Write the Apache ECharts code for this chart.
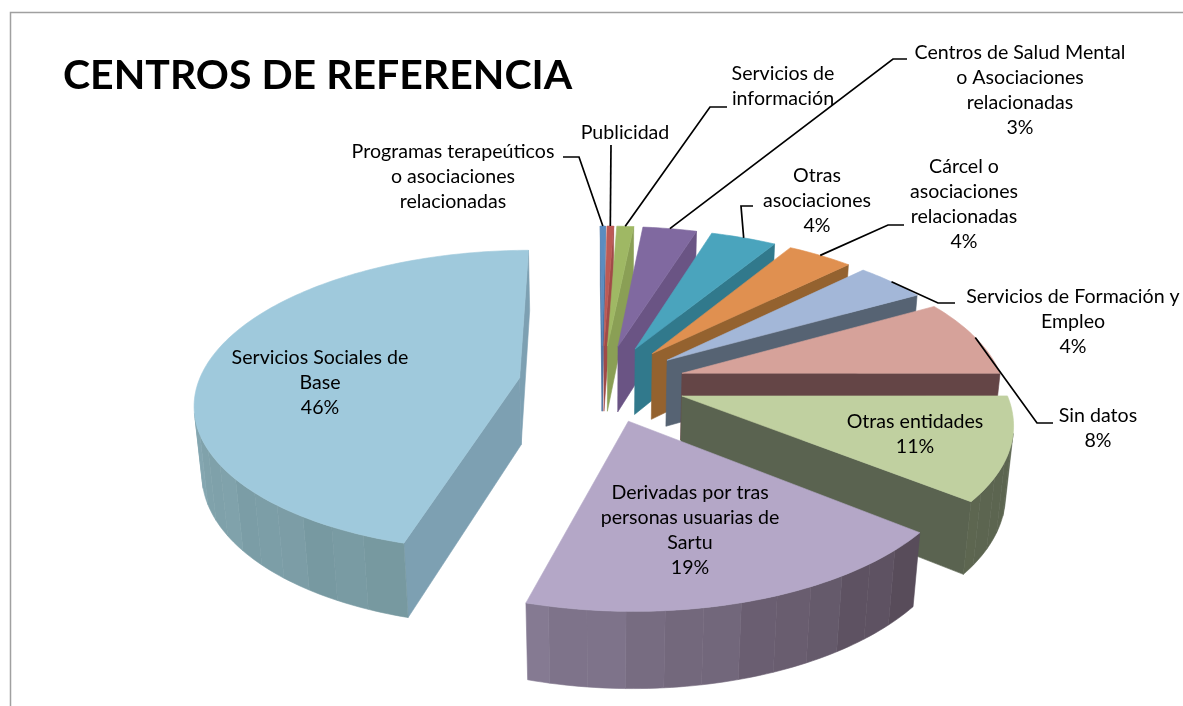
<!DOCTYPE html>
<html>
<head>
<meta charset="utf-8">
<style>
  html, body { margin: 0; padding: 0; background: #fff; }
  #chart { width: 1183px; height: 706px; }
</style>
<script src="https://cdn.jsdelivr.net/npm/echarts@6/dist/echarts.min.js"></script>
</head>
<body>
<div id="chart"></div>
<script>
// valores (porcentaje, sentido horario desde las 12)
const names = ['Programas terapeúticos', 'Publicidad', 'Servicios de información', 'Centros de Salud Mental', 'Otras asociaciones', 'Cárcel', 'Servicios de Formación y Empleo', 'Sin datos', 'Otras entidades', 'Derivadas', 'Servicios Sociales de Base']
const values = [0.3, 0.4, 1.0, 3.2, 3.9, 3.9, 4.2, 8.2, 10.8, 18.6, 45.5]
const percentLabels = ['', '', '', '3%', '4%', '4%', '4%', '8%', '11%', '19%', '46%']
const labelLines = [
  ['Programas terapeúticos', 'o asociaciones', 'relacionadas'],
  ['Publicidad'],
  ['Servicios de', 'información'],
  ['Centros de Salud Mental', 'o Asociaciones', 'relacionadas'],
  ['Otras', 'asociaciones'],
  ['Cárcel o', 'asociaciones', 'relacionadas'],
  ['Servicios de Formación y', 'Empleo'],
  ['Sin datos'],
  ['Otras entidades'],
  ['Derivadas por tras', 'personas usuarias de', 'Sartu'],
  ['Servicios Sociales de', 'Base']
]

// colores: cara superior, corte, pared exterior (inicio, fin)
const topColors = ['#5b8cc0', '#bd5a55', '#9fb864', '#8069a0', '#4aa4bd', '#e09050', '#a3b7d8', '#d6a29a', '#c0d0a0', '#b4a7c7', '#9fc9dc']
const cutColors = ['#4a6f9c', '#a04a48', '#8a9f55', '#6a5484', '#31798c', '#94622f', '#566373', '#644546', '#5a6350', '#5f5363', '#7da0b2']
const wallStart = ['#4a6f9c', '#a04a48', '#8a9f55', '#6a5484', '#31798c', '#94622f', '#566373', '#644546', '#5a6350', '#564a58', '#76989f']
const wallEnd = ['#4a6f9c', '#a04a48', '#8a9f55', '#6a5484', '#31798c', '#94622f', '#566373', '#644546', '#5d6650', '#857a92', '#9bbccc']

// posicion de los textos: centro x, y de la primera linea
const labelPos = [[453, 152], [625, 133], [783, 74], [1020, 53], [817, 176], [964, 167], [1073, 297], [1098, 416], [915, 422], [690, 493], [320, 358]]
// codo de las lineas guia, desde el texto hacia la porcion
const leaderPos = [
  [[563, 157], [579, 157]],
  [[611, 145]],
  [[727, 107], [710, 107]],
  [[907, 59], [893, 59]],
  [[753, 206], [741, 206]],
  [[904, 225], [888, 225]],
  [[955, 303], [938, 303]],
  [[1053, 423], [1037, 423]]
]

const view = { cx: 602, cy: 383, f: 1880, dist: 5.85, tilt: 27.5 * Math.PI / 180, height: 0.24, explode: 0.26, start: -0.4 * Math.PI / 180 }
const bandStep = 0.1
const total = values.reduce((a, b) => a + b, 0)

function project(x, y, z) {
  const c = Math.cos(view.tilt), s = Math.sin(view.tilt)
  const depth = view.dist + y * c - z * s
  return [view.cx + view.f * x / depth, view.cy - view.f * (y * s + z * c) / depth]
}

function hexMix(a, b, t) {
  const pa = parseInt(a.slice(1), 16), pb = parseInt(b.slice(1), 16)
  const ch = sh => Math.round(((pa >> sh) & 255) * (1 - t) + ((pb >> sh) & 255) * t)
  return 'rgb(' + ch(16) + ',' + ch(8) + ',' + ch(0) + ')'
}

// angulos de cada porcion
const slices = []
let acc = 0
values.forEach((v, i) => {
  const a0 = view.start + acc / total * Math.PI * 2
  acc += v
  const a1 = view.start + acc / total * Math.PI * 2
  const mid = (a0 + a1) / 2
  slices.push({ a0, a1, ox: Math.sin(mid) * view.explode, oy: Math.cos(mid) * view.explode, mid })
})

function slicePoint(s, a, z) {
  return project(s.ox + Math.sin(a), s.oy + Math.cos(a), z)
}

function area(pts) {
  let sum = 0
  pts.forEach((p, i) => {
    const q = pts[(i + 1) % pts.length]
    sum += p[0] * q[1] - q[0] * p[1]
  })
  return sum
}

function renderSlice(params, api) {
  const i = api.value(1)
  const s = slices[i]
  const span = s.a1 - s.a0
  const apexTop = project(s.ox, s.oy, 0)
  const apexBot = project(s.ox, s.oy, -view.height)
  const n = Math.max(2, Math.ceil(span / 0.02))
  const arcTop = [], arcBot = []
  for (let k = 0; k <= n; k++) {
    const a = s.a0 + span * k / n
    arcTop.push(slicePoint(s, a, 0))
    arcBot.push(slicePoint(s, a, -view.height))
  }
  const children = []
  const poly = (pts, color) => children.push({
    type: 'polygon',
    shape: { points: pts },
    style: { fill: color, stroke: color, lineWidth: 0.6 }
  })
  // paredes visibles
  const q0 = [apexTop, arcTop[0], arcBot[0], apexBot]
  if (area(q0) < 0) poly(q0, cutColors[i])
  const q1 = [arcTop[n], apexTop, apexBot, arcBot[n]]
  if (area(q1) < 0) poly(q1, cutColors[i])

  // bandas verticales como en el original: un poligono por banda
  let from = -1, curBand = -1
  const flush = to => {
    if (from < 0 || to <= from) return
    const t = Math.min(1, Math.max(0, (curBand + 0.5) * bandStep / span + Math.sin(curBand * 2.3) * 0.05))
    poly(arcTop.slice(from, to + 1).concat(arcBot.slice(from, to + 1).reverse()), hexMix(wallStart[i], wallEnd[i], t))
  }
  for (let k = 0; k < n; k++) {
    const visible = area([arcTop[k], arcTop[k + 1], arcBot[k + 1], arcBot[k]]) < 0
    const bandNo = Math.floor((k * span / n) / bandStep)
    if (!visible || bandNo !== curBand) {
      flush(k)
      from = visible ? k : -1
      curBand = bandNo
    } else if (from < 0) {
      from = k
    }
  }
  flush(n)

  poly([apexTop].concat(arcTop), topColors[i])
  return { type: 'group', children }
}

// de atras hacia delante
const drawOrder = values.map((v, i) => i).sort((a, b) => slices[b].oy - slices[a].oy)

const graphics = [
  { type: 'polyline', shape: { points: [[10.5, 706], [10.5, 12.5], [1183, 12.5]] }, style: { fill: null, stroke: '#a0a0a0', lineWidth: 1.5 }, z: 1 },
  { type: 'text', x: 63, y: 76, style: { text: 'CENTROS DE REFERENCIA', fontFamily: 'Lato', fontWeight: 'bold', fontSize: 41, fill: '#000', verticalAlign: 'middle' }, z: 10 }
]

labelLines.forEach((lines, i) => {
  const all = percentLabels[i] ? lines.concat(percentLabels[i]) : lines
  all.forEach((t, k) => {
    graphics.push({
      type: 'text', x: labelPos[i][0], y: labelPos[i][1] + k * 25,
      style: { text: t, fontFamily: 'Lato', fontSize: 19.6, fill: '#000', align: 'center', verticalAlign: 'middle' },
      z: 10
    })
  })
})

leaderPos.forEach((pts, i) => {
  const s = slices[i]
  const end = slicePoint(s, s.mid, 0)
  graphics.push({
    type: 'polyline',
    shape: { points: pts.concat([end]) },
    style: { fill: null, stroke: '#000', lineWidth: 1.7 },
    z: 9
  })
})

const chart = echarts.init(document.getElementById('chart'))
chart.setOption({
  animation: false,
  backgroundColor: '#fff',
  graphic: graphics,
  series: [{
    type: 'custom',
    coordinateSystem: 'none',
    renderItem: renderSlice,
    data: drawOrder.map(i => ({ name: names[i], value: [values[i], i] }))
  }]
})
</script>
</body>
</html>
